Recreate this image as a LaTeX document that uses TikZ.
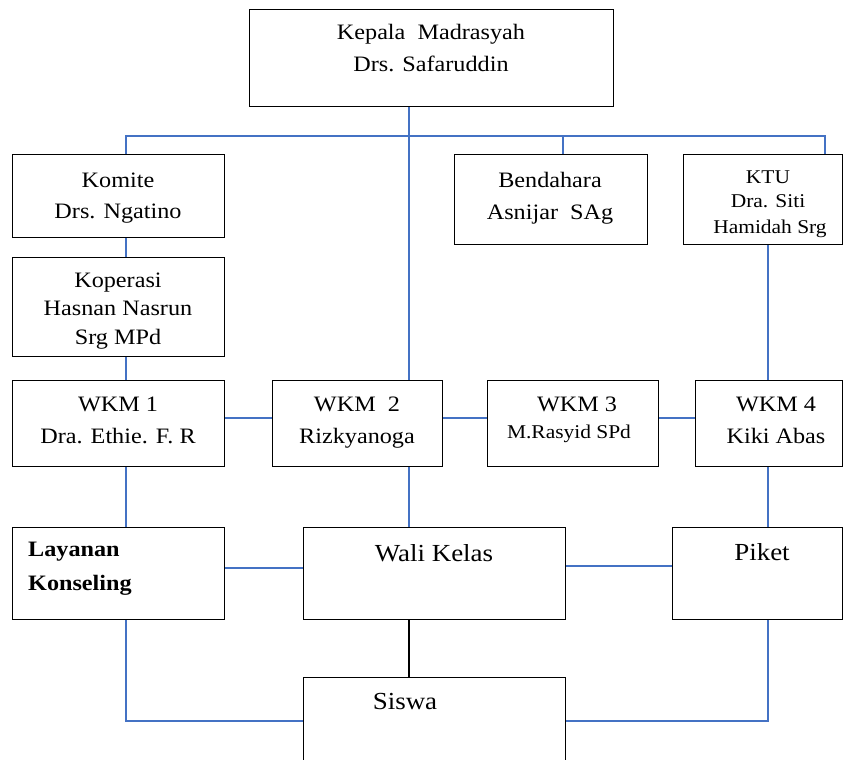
\documentclass[tikz,border=0pt]{standalone}
\usepackage{fontspec}
\setmainfont{Liberation Serif}[FakeStretch=1.1]
\definecolor{wordblue}{RGB}{68,114,196}
\begin{document}
\begin{tikzpicture}[x=1pt,y=-1pt,
  box/.style={draw=black, line width=1.2pt, anchor=north west, inner sep=0pt, fill=white},
  txt/.style={anchor=base, inner sep=0pt, font=\fontsize{22}{26}\selectfont},
  bigtxt/.style={anchor=base, inner sep=0pt, font=\fontsize{24.5}{28}\selectfont},
  smalltxt/.style={anchor=base, inner sep=0pt, font=\fontsize{19.5}{23}\selectfont},
  boldtxt/.style={anchor=base west, inner sep=0pt, font=\fontsize{22}{26}\selectfont\bfseries},
  conn/.style={draw=wordblue, line width=1.5pt},
  blackconn/.style={draw=black, line width=1.3pt}]
\useasboundingbox (0,0) rectangle (843,760);
% coordinates for connector lines
\coordinate (xL) at (126,0);
\coordinate (xT) at (409,0);
\coordinate (xB) at (563,0);
\coordinate (xK) at (825,0);
\coordinate (xR) at (768,0);
\coordinate (busY) at (0,136);
\coordinate (wY) at (0,418);
\coordinate (lwY) at (0,568);
\coordinate (wpY) at (0,566);
\coordinate (botY) at (0,721);
% boxes
\node[box, minimum width=364pt, minimum height=97pt] (kepala) at (249,9) {};
\node[box, minimum width=212pt, minimum height=83pt] (komite) at (12,154) {};
\node[box, minimum width=193pt, minimum height=90pt] (bendahara) at (454,154) {};
\node[box, minimum width=159pt, minimum height=90pt] (ktu) at (683,154) {};
\node[box, minimum width=212pt, minimum height=99pt] (koperasi) at (12,257) {};
\node[box, minimum width=212pt, minimum height=86pt] (wkm1) at (12,380) {};
\node[box, minimum width=170pt, minimum height=86pt] (wkm2) at (272,380) {};
\node[box, minimum width=171pt, minimum height=86pt] (wkm3) at (487,380) {};
\node[box, minimum width=147pt, minimum height=86pt] (wkm4) at (695,380) {};
\node[box, minimum width=212pt, minimum height=92pt] (layanan) at (12,527) {};
\node[box, minimum width=262pt, minimum height=92pt] (wali) at (303,527) {};
\node[box, minimum width=170pt, minimum height=92pt] (piket) at (672,527) {};
\node[box, minimum width=262pt, minimum height=100pt] (siswa) at (303,677) {};
% texts
\node[txt] (t-kep1) at (431,40) {Kepala\ \ Madrasyah};
\node[txt] (t-kep2) at (431,71) {Drs. Safaruddin};
\node[txt] (t-kom1) at (118,187) {Komite};
\node[txt] (t-kom2) at (118,218) {Drs. Ngatino};
\node[txt] (t-ben1) at (550,187) {Bendahara};
\node[txt] (t-ben2) at (550,219) {Asnijar\ \ SAg};
\node[smalltxt] (t-ktu1) at (768,183) {KTU};
\node[smalltxt] (t-ktu2) at (768,207) {Dra. Siti};
\node[smalltxt] (t-ktu3) at (770,233) {Hamidah Srg};
\node[txt] (t-kop1) at (118,287) {Koperasi};
\node[txt] (t-kop2) at (118,315) {Hasnan Nasrun};
\node[txt] (t-kop3) at (118,344) {Srg MPd};
\node[txt] (t-w1a) at (118,411) {WKM 1};
\node[txt] (t-w1b) at (118,443) {Dra. Ethie. F. R};
\node[txt] (t-w2a) at (357,411) {WKM\ \ 2};
\node[txt] (t-w2b) at (357,443) {Rizkyanoga};
\node[txt] (t-w3a) at (577,411) {WKM 3};
\node[smalltxt] (t-w3b) at (569,438) {M.Rasyid SPd};
\node[txt] (t-w4a) at (776,411) {WKM 4};
\node[txt] (t-w4b) at (776,443) {Kiki Abas};
\node[boldtxt] (t-lay1) at (28,556) {Layanan};
\node[boldtxt] (t-lay2) at (28,590) {Konseling};
\node[bigtxt] (t-wali) at (434,561) {Wali Kelas};
\node[bigtxt] (t-piket) at (762,560) {Piket};
\node[bigtxt] (t-siswa) at (405,709) {Siswa};
% connectors
\draw[conn] (kepala.south -| xT) -- (wkm2.north -| xT);
\draw[conn] (komite.north -| xL) -- (xL |- busY) -- (xK |- busY) -- (ktu.north -| xK);
\draw[conn] (xB |- busY) -- (bendahara.north -| xB);
\draw[conn] (komite.south -| xL) -- (koperasi.north -| xL);
\draw[conn] (koperasi.south -| xL) -- (wkm1.north -| xL);
\draw[conn] (wkm1.south -| xL) -- (layanan.north -| xL);
\draw[conn] (ktu.south -| xR) -- (wkm4.north -| xR);
\draw[conn] (wkm4.south -| xR) -- (piket.north -| xR);
\draw[conn] (wkm2.south -| xT) -- (wali.north -| xT);
\draw[conn] (wkm1.east |- wY) -- (wkm2.west |- wY);
\draw[conn] (wkm2.east |- wY) -- (wkm3.west |- wY);
\draw[conn] (wkm3.east |- wY) -- (wkm4.west |- wY);
\draw[conn] (layanan.east |- lwY) -- (wali.west |- lwY);
\draw[conn] (wali.east |- wpY) -- (piket.west |- wpY);
\draw[conn] (layanan.south -| xL) -- (xL |- botY) -- (siswa.west |- botY);
\draw[conn] (piket.south -| xR) -- (xR |- botY) -- (siswa.east |- botY);
\draw[blackconn] (wali.south -| xT) -- (siswa.north -| xT);
\end{tikzpicture}
\end{document}
